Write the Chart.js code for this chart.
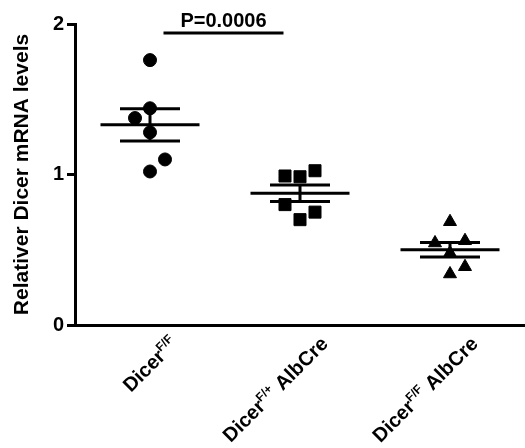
<!DOCTYPE html>
<html>
<head>
<meta charset="utf-8">
<script src="https://cdn.jsdelivr.net/npm/chart.js@4/dist/chart.umd.min.js"></script>
<style>
	body { margin: 0; background: #fff; }
	canvas { display: block; }
</style>
</head>
<body>
<canvas id="myChart" width="525" height="448"></canvas>
<script>
// categories (name + superscript + rest)
const groupNames = ['Dicer', 'Dicer', 'Dicer']
const groupSups = ['F/F', 'F/+', 'F/F']
const groupTails = ['', ' AlbCre', ' AlbCre']

// values
const ffValues = [1.76, 1.44, 1.375, 1.28, 1.10, 1.02]
const fpAlbValues = [0.99, 0.985, 1.025, 0.80, 0.75, 0.70]
const ffAlbValues = [0.686, 0.545, 0.56, 0.478, 0.387, 0.339]

// horizontal spread of the dots around the group centre (category units)
const ffSpread = [0, 0, -0.1, 0, 0.1, 0]
const fpAlbSpread = [-0.1, 0, 0.1, -0.1, 0.1, 0]
const ffAlbSpread = [0, -0.1, 0.1, 0, 0.1, 0]

// mean and SEM of each group
const means = [1.33, 0.875, 0.5]
const sems = [0.107, 0.055, 0.048]

const yTicks = [0, 1, 2]

// significance bracket between group 0 and 1
const pText = 'P=0.0006'
const pFrom = 0.09
const pTo = 0.89
const pLevel = 1.94

const fontFamily = 'Arial, "Liberation Sans", Helvetica, sans-serif'

function toPoints(values, spread, group) {
	return values.map((v, i) => ({ x: group + spread[i], y: v }))
}

// mean line, two SEM whiskers and the vertical bar, gaps between them
const statLines = []
means.forEach((m, i) => {
	const s = sems[i]
	statLines.push({ x: i - 0.33, y: m }, { x: i + 0.33, y: m }, { x: i, y: null })
	statLines.push({ x: i - 0.2, y: m + s }, { x: i + 0.2, y: m + s }, { x: i, y: null })
	statLines.push({ x: i - 0.2, y: m - s }, { x: i + 0.2, y: m - s }, { x: i, y: null })
	statLines.push({ x: i, y: m - s }, { x: i, y: m + s }, { x: i, y: null })
})

const bracket = [
	{ x: pFrom, y: pLevel },
	{ x: pTo, y: pLevel },
]

const labelPlugin = {
	id: 'groupLabels',
	afterDraw(chart) {
		const ctx = chart.ctx
		const xs = chart.scales.x
		const ys = chart.scales.y
		const big = 'bold 20px ' + fontFamily
		const small = 'bold 12px ' + fontFamily

		ctx.save()
		ctx.fillStyle = '#000'
		ctx.textAlign = 'left'
		ctx.textBaseline = 'alphabetic'

		groupNames.forEach((name, i) => {
			ctx.font = big
			const w1 = ctx.measureText(name).width
			const w3 = ctx.measureText(groupTails[i]).width
			ctx.font = small
			const w2 = ctx.measureText(groupSups[i]).width

			ctx.save()
			ctx.translate(xs.getPixelForValue(i) + 29, xs.top + 20)
			ctx.rotate(-Math.PI / 4)
			let pos = -(w1 + w2 + w3)
			ctx.font = big
			ctx.fillText(name, pos, 0)
			pos += w1
			ctx.font = small
			ctx.fillText(groupSups[i], pos, -8)
			pos += w2
			ctx.font = big
			ctx.fillText(groupTails[i], pos, 0)
			ctx.restore()
		})

		// p value above the bracket
		ctx.font = 'bold 20px ' + fontFamily
		ctx.textAlign = 'center'
		ctx.fillText(
			pText,
			xs.getPixelForValue((pFrom + pTo) / 2),
			ys.getPixelForValue(pLevel) - 6
		)
		ctx.restore()
	},
}

const ctx = document.getElementById('myChart')

new Chart(ctx, {
	type: 'scatter',
	data: {
		datasets: [
			{
				data: toPoints(ffValues, ffSpread, 0),
				pointStyle: 'circle',
				pointRadius: 6.5,
				backgroundColor: '#000',
				borderColor: '#000',
			},
			{
				data: toPoints(fpAlbValues, fpAlbSpread, 1),
				pointStyle: 'rect',
				pointRadius: 8.5,
				backgroundColor: '#000',
				borderColor: '#000',
			},
			{
				data: toPoints(ffAlbValues, ffAlbSpread, 2),
				pointStyle: 'triangle',
				pointRadius: 7.5,
				backgroundColor: '#000',
				borderColor: '#000',
			},
			{
				data: statLines,
				showLine: true,
				spanGaps: false,
				pointRadius: 0,
				borderColor: '#000',
				borderWidth: 3,
				borderCapStyle: 'butt',
			},
			{
				data: bracket,
				showLine: true,
				pointRadius: 0,
				borderColor: '#000',
				borderWidth: 3,
				borderCapStyle: 'butt',
			},
		],
	},
	options: {
		responsive: false,
		animation: false,
		layout: {
			autoPadding: false,
			padding: { top: 24, right: 0, left: 0, bottom: 0 },
		},
		scales: {
			x: {
				type: 'linear',
				min: -0.5,
				max: 2.5,
				ticks: { display: false },
				grid: { display: false },
				border: { color: '#000', width: 3 },
				afterFit: function (scale) {
					scale.height = 123
				},
			},
			y: {
				min: 0,
				max: 2,
				afterBuildTicks: function (scale) {
					scale.ticks = yTicks.map((v) => ({ value: v }))
				},
				ticks: {
					color: '#000',
					padding: 3,
					font: { family: fontFamily, size: 20, weight: 'bold' },
				},
				grid: {
					drawOnChartArea: false,
					tickLength: 8,
					tickWidth: 3,
					tickColor: '#000',
				},
				border: { color: '#000', width: 3 },
				title: {
					display: true,
					text: 'Relativer Dicer mRNA levels',
					color: '#000',
					padding: { top: 10, bottom: 0 },
					font: { family: fontFamily, size: 21, weight: 'bold' },
				},
				afterFit: function (scale) {
					scale.width = 75
				},
			},
		},
		plugins: {
			legend: { display: false },
			tooltip: { enabled: false },
		},
	},
	plugins: [labelPlugin],
})
</script>
</body>
</html>
